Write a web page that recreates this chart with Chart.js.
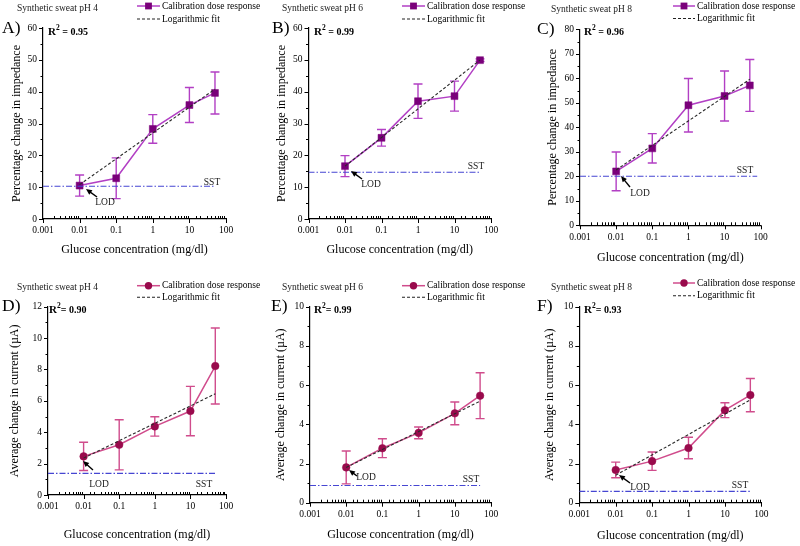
<!DOCTYPE html>
<html>
<head>
<meta charset="utf-8">
<script src="https://cdn.jsdelivr.net/npm/chart.js@4.4.1/dist/chart.umd.min.js"></script>
<style>
  html, body { margin: 0; padding: 0; background: #fff; }
  #fig { position: relative; width: 800px; height: 546px; overflow: hidden; }
  #fig canvas { position: absolute; }
</style>
</head>
<body>
<div id="fig"></div>
<script>
// glucose concentrations (mg/dl)
const concentrations = [0.01, 0.1, 1, 10, 50];
const fitConc = [0.01, 50];
const xTickLabels = ['0.001', '0.01', '0.1', '1', '10', '100'];

// impedance, % change
const impedancePH4 = [10.5, 12.8, 28.3, 35.8, 39.6];
const impedancePH4Err = [3.3, 6.4, 4.5, 5.5, 6.6];
const impedancePH4Fit = [10.8, 40.8];
const impedancePH6 = [16.6, 25.5, 37.0, 38.6, 49.9];
const impedancePH6Err = [3.3, 2.6, 5.4, 4.7, 0.4];
const impedancePH6Fit = [16.6, 49.9];
const impedancePH8 = [22.0, 31.4, 49.0, 52.8, 57.1];
const impedancePH8Err = [7.9, 6.0, 10.9, 10.2, 10.6];
const impedancePH8Fit = [22.6, 59.6];

// current, µA
const currentPH4 = [2.46, 3.2, 4.37, 5.35, 8.22];
const currentPH4Err = [0.9, 1.6, 0.62, 1.57, 2.42];
const currentPH4Fit = [2.35, 6.45];
const currentPH6 = [1.8, 2.78, 3.56, 4.56, 5.46];
const currentPH6Err = [0.84, 0.48, 0.3, 0.58, 1.17];
const currentPH6Fit = [1.8, 5.18];
const currentPH8 = [1.67, 2.12, 2.79, 4.72, 5.49];
const currentPH8Err = [0.4, 0.47, 0.55, 0.38, 0.85];
const currentPH8Fit = [1.4, 5.25];

// SST levels and where the SST line stops
const sstLevels = [10.3, 14.7, 20.0, 1.38, 0.88, 0.58];
const sstEnds = [50, 50, 80, 55, 50, 50];
const r2Values = ['0.95', '0.99', '0.96', '0.90', '0.99', '0.93'];

const FONT = "'Liberation Serif', 'Times New Roman', serif";
const IMP_LINE = '#b23fc4', IMP_MARK = '#7a007a';
const CUR_LINE = '#d04c8c', CUR_MARK = '#990a4c';

const panels = [
  { letter: 'A)', title: 'Synthetic sweat pH 4', values: impedancePH4, errors: impedancePH4Err, fit: impedancePH4Fit,
    yMax: 60, yStep: 10, yTitle: 'Percentage change in impedance', marker: 'rect', r2sep: ' = ',
    box: [0, 0, 265, 273], area: [43, 28, 226, 219], yTitlePad: 9.5, xTitlePad: 15.8,
    titlePos: [17, 8], letterPos: [2, 28], r2Pos: [48, 32], legend: [137, 160, 162, 6, 19],
    tip: [86, 189], tail: [97, 197], lod: [105, 202], sstText: [212, 182] },
  { letter: 'B)', title: 'Synthetic sweat pH 6', values: impedancePH6, errors: impedancePH6Err, fit: impedancePH6Fit,
    yMax: 60, yStep: 10, yTitle: 'Percentage change in impedance', marker: 'rect', r2sep: ' = ',
    box: [265, 0, 265, 273], area: [43.5, 28, 226, 219], yTitlePad: 9.5, xTitlePad: 15.8,
    titlePos: [17, 8], letterPos: [7, 28], r2Pos: [49, 32], legend: [137, 160, 162, 6, 19],
    tip: [86, 171], tail: [97, 179], lod: [106, 184], sstText: [211, 166] },
  { letter: 'C)', title: 'Synthetic sweat pH 8', values: impedancePH8, errors: impedancePH8Err, fit: impedancePH8Fit,
    yMax: 80, yStep: 10, yTitle: 'Percentage change in impedance', marker: 'rect', r2sep: ' = ',
    box: [530, 0, 270, 273], area: [50, 29.3, 230.7, 225.3], yTitlePad: 15.8, xTitlePad: 8,
    titlePos: [21, 9.5], letterPos: [7, 29], r2Pos: [54, 32.5], legend: [143, 165, 167, 6, 18.5],
    tip: [91, 176], tail: [100, 187], lod: [110, 193], sstText: [215, 170] },
  { letter: 'D)', title: 'Synthetic sweat pH 4', values: currentPH4, errors: currentPH4Err, fit: currentPH4Fit,
    yMax: 12, yStep: 2, yTitle: 'Average change in current (\u00b5A)', marker: 'circle', r2sep: '= ',
    box: [0, 273, 265, 273], area: [48, 33.7, 226, 222], yTitlePad: 7.8, xTitlePad: 4,
    titlePos: [17, 14], letterPos: [2, 33], r2Pos: [49, 37], legend: [137, 160, 162, 12.7, 24.3],
    tip: [83, 188], tail: [93, 197], lod: [99, 211], sstText: [204, 211] },
  { letter: 'E)', title: 'Synthetic sweat pH 6', values: currentPH6, errors: currentPH6Err, fit: currentPH6Fit,
    yMax: 10, yStep: 2, yTitle: 'Average change in current (\u00b5A)', marker: 'circle', r2sep: '= ',
    box: [265, 273, 265, 273], area: [45, 33.7, 226, 229.7], yTitlePad: 8.8, xTitlePad: 4,
    titlePos: [17, 14], letterPos: [6, 33], r2Pos: [49, 37], legend: [137, 160, 162, 12.7, 24.3],
    tip: [84, 197], tail: [92, 203], lod: [101, 204], sstText: [206, 206] },
  { letter: 'F)', title: 'Synthetic sweat pH 8', values: currentPH8, errors: currentPH8Err, fit: currentPH8Fit,
    yMax: 10, yStep: 2, yTitle: 'Average change in current (\u00b5A)', marker: 'circle', r2sep: '= ',
    box: [530, 273, 270, 273], area: [49.3, 33.7, 231.3, 229.7], yTitlePad: 12.8, xTitlePad: 2.5,
    titlePos: [21, 14], letterPos: [7, 33], r2Pos: [54, 37.5], legend: [143, 165, 167, 10, 22.7],
    tip: [89, 202], tail: [100, 210], lod: [110, 214], sstText: [210, 212] }
];

function text(ctx, str, x, y, size, opts = {}) {
  ctx.font = `${opts.bold ? 'bold ' : ''}${size}px ${FONT}`;
  ctx.fillStyle = opts.color || '#000';
  ctx.textAlign = opts.align || 'left';
  ctx.textBaseline = opts.baseline || 'middle';
  ctx.fillText(str, x, y);
  return ctx.measureText(str).width;
}

function drawMarker(ctx, style, x, y, color) {
  ctx.fillStyle = color;
  ctx.beginPath();
  if (style === 'rect') ctx.rect(x - 3.4, y - 3.4, 6.8, 6.8);
  else ctx.arc(x, y, 3.7, 0, Math.PI * 2);
  ctx.fill();
}

function isDecade(v) {
  const l = Math.log10(v);
  return Math.abs(l - Math.round(l)) < 1e-6;
}

function makePlugin(p, lineColor, markColor) {
  return {
    id: 'figure',
    beforeDatasetsDraw(chart) {
      const { ctx } = chart;
      const xs = chart.scales.x, ys = chart.scales.y;
      ctx.save();
      ctx.strokeStyle = lineColor;
      ctx.lineWidth = 1.4;
      concentrations.forEach((c, i) => {
        const px = xs.getPixelForValue(c);
        const top = ys.getPixelForValue(p.values[i] + p.errors[i]);
        const bot = ys.getPixelForValue(p.values[i] - p.errors[i]);
        ctx.beginPath();
        ctx.moveTo(px, top); ctx.lineTo(px, bot);
        ctx.moveTo(px - 4.5, top); ctx.lineTo(px + 4.5, top);
        ctx.moveTo(px - 4.5, bot); ctx.lineTo(px + 4.5, bot);
        ctx.stroke();
      });
      ctx.restore();
    },
    afterDraw(chart) {
      const { ctx, chartArea: b } = chart;
      const xs = chart.scales.x, ys = chart.scales.y;
      ctx.save();

      // tick marks: x majors outward, minors inward; y majors + midpoint minors outward
      ctx.strokeStyle = '#000';
      ctx.lineWidth = 1;
      ctx.beginPath();
      xs.ticks.forEach(t => {
        const px = Math.round(xs.getPixelForValue(t.value)) + 0.5;
        ctx.moveTo(px, b.bottom);
        ctx.lineTo(px, isDecade(t.value) ? b.bottom + 4 : b.bottom - 3);
      });
      ys.ticks.forEach((t, i) => {
        const py = Math.round(ys.getPixelForValue(t.value)) + 0.5;
        ctx.moveTo(b.left, py); ctx.lineTo(b.left - 4, py);
        if (i < ys.ticks.length - 1) {
          const mid = Math.round(ys.getPixelForValue((t.value + ys.ticks[i + 1].value) / 2)) + 0.5;
          ctx.moveTo(b.left, mid); ctx.lineTo(b.left - 2.5, mid);
        }
      });
      ctx.stroke();

      // panel title, letter, R²
      text(ctx, p.title, p.titlePos[0], p.titlePos[1], 9.5, { color: '#1a1a1a' });
      text(ctx, p.letter, p.letterPos[0], p.letterPos[1], 17.5);
      let rx = p.r2Pos[0];
      rx += text(ctx, 'R', rx, p.r2Pos[1], 11, { bold: true });
      rx += text(ctx, '2', rx, p.r2Pos[1] - 4, 7.5, { bold: true });
      text(ctx, p.r2sep + r2Values[panels.indexOf(p)], rx, p.r2Pos[1], 10, { bold: true });

      // legend
      const [lx0, lx1, tx, ly1, ly2] = p.legend;
      ctx.strokeStyle = lineColor;
      ctx.lineWidth = 1.5;
      ctx.beginPath(); ctx.moveTo(lx0, ly1); ctx.lineTo(lx1, ly1); ctx.stroke();
      drawMarker(ctx, p.marker, (lx0 + lx1) / 2, ly1, markColor);
      ctx.strokeStyle = '#222';
      ctx.lineWidth = 1.1;
      ctx.setLineDash([3, 2]);
      ctx.beginPath(); ctx.moveTo(lx0, ly2); ctx.lineTo(lx1, ly2); ctx.stroke();
      ctx.setLineDash([]);
      text(ctx, 'Calibration dose response', tx, ly1, 9.5);
      text(ctx, 'Logarithmic fit', tx, ly2, 9.5);

      // LOD arrow and labels
      const [ax, ay] = p.tip, [bx, by] = p.tail;
      const ang = Math.atan2(ay - by, ax - bx);
      ctx.strokeStyle = '#000';
      ctx.fillStyle = '#000';
      ctx.lineWidth = 1.4;
      ctx.beginPath();
      ctx.moveTo(bx, by);
      ctx.lineTo(ax - 4 * Math.cos(ang), ay - 4 * Math.sin(ang));
      ctx.stroke();
      ctx.beginPath();
      ctx.moveTo(ax, ay);
      ctx.lineTo(ax - 6 * Math.cos(ang) + 2.7 * Math.sin(ang), ay - 6 * Math.sin(ang) - 2.7 * Math.cos(ang));
      ctx.lineTo(ax - 6 * Math.cos(ang) - 2.7 * Math.sin(ang), ay - 6 * Math.sin(ang) + 2.7 * Math.cos(ang));
      ctx.closePath();
      ctx.fill();
      text(ctx, 'LOD', p.lod[0], p.lod[1], 9.5, { align: 'center', color: '#1a1a1a' });
      text(ctx, 'SST', p.sstText[0], p.sstText[1], 9.5, { align: 'center', color: '#1a1a1a' });
      ctx.restore();
    }
  };
}

const fig = document.getElementById('fig');
panels.forEach((p, idx) => {
  const [left, top, W, H] = p.box;
  const [aL, aT, aR, aB] = p.area;
  const isImp = p.marker === 'rect';
  const lineColor = isImp ? IMP_LINE : CUR_LINE;
  const markColor = isImp ? IMP_MARK : CUR_MARK;

  const canvas = document.createElement('canvas');
  canvas.width = W; canvas.height = H;
  canvas.style.left = left + 'px';
  canvas.style.top = top + 'px';
  canvas.style.width = W + 'px';
  canvas.style.height = H + 'px';
  fig.appendChild(canvas);

  new Chart(canvas, {
    type: 'line',
    data: {
      datasets: [
        {
          label: 'SST',
          data: [{ x: 0.001, y: sstLevels[idx] }, { x: sstEnds[idx], y: sstLevels[idx] }],
          borderColor: '#4646d2', borderWidth: 1.1, borderDash: [6, 2, 1.5, 2], pointRadius: 0
        },
        {
          label: 'Logarithmic fit',
          data: fitConc.map((c, i) => ({ x: c, y: p.fit[i] })),
          borderColor: '#2a2a2a', borderWidth: 1.1, borderDash: [3, 2], pointRadius: 0
        },
        {
          label: 'Calibration dose response',
          data: concentrations.map((c, i) => ({ x: c, y: p.values[i] })),
          borderColor: lineColor, borderWidth: 1.5, tension: 0,
          pointStyle: p.marker, pointRadius: isImp ? 4.9 : 3.8,
          pointBackgroundColor: markColor, pointBorderColor: markColor, pointBorderWidth: 0.5
        }
      ]
    },
    options: {
      responsive: false,
      animation: false,
      devicePixelRatio: 1,
      layout: { padding: { top: aT, right: W - aR, left: 0, bottom: 0 } },
      plugins: { legend: { display: false }, tooltip: { enabled: false } },
      scales: {
        x: {
          type: 'logarithmic', min: 0.001, max: 100,
          grid: { display: false, drawTicks: false },
          border: { display: true, color: '#000', width: 1.2 },
          ticks: {
            autoSkip: false, maxRotation: 0, minRotation: 0, padding: 6, color: '#000',
            font: { family: FONT, size: 9.5 },
            callback: v => {
              if (!isDecade(v)) return '';
              return xTickLabels[Math.round(Math.log10(v)) + 3];
            }
          },
          title: { display: true, text: 'Glucose concentration (mg/dl)', color: '#000',
                   font: { family: FONT, size: 12 }, padding: { top: 0, bottom: p.xTitlePad } },
          afterFit(scale) { scale.height = H - aB; }
        },
        y: {
          type: 'linear', min: 0, max: p.yMax,
          grid: { display: false, drawTicks: false },
          border: { display: true, color: '#000', width: 1.2 },
          ticks: { stepSize: p.yStep, padding: 6, color: '#000', font: { family: FONT, size: 9.5 } },
          title: { display: true, text: p.yTitle, color: '#000',
                   font: { family: FONT, size: 12 }, padding: { top: p.yTitlePad, bottom: 0 } },
          afterFit(scale) { scale.width = aL; }
        }
      }
    },
    plugins: [makePlugin(p, lineColor, markColor)]
  });
});
</script>
</body>
</html>
